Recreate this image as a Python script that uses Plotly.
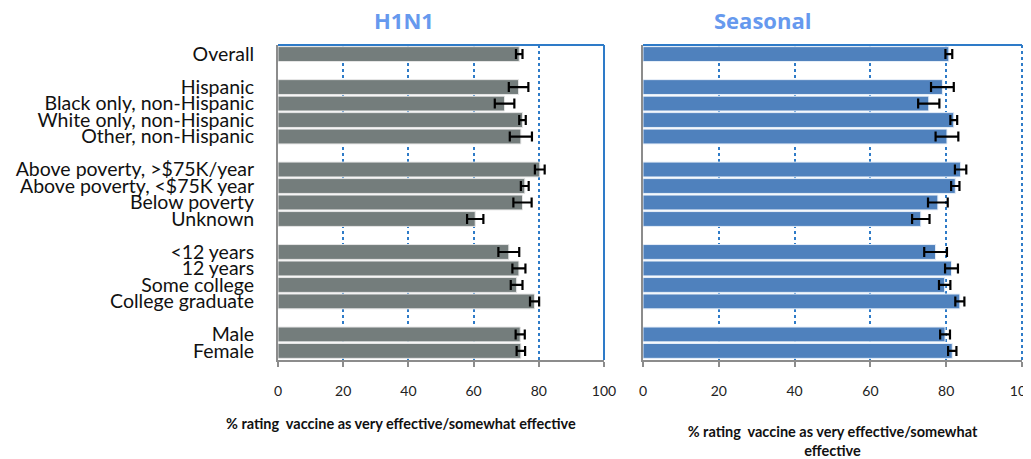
import plotly.graph_objects as go

# ---- data ----
groups = [
    ["Overall"],
    ["Hispanic", "Black only, non-Hispanic", "White only, non-Hispanic", "Other, non-Hispanic"],
    ["Above poverty, >$75K/year", "Above poverty, <$75K year", "Below poverty", "Unknown"],
    ["<12 years", "12 years", "Some college", "College graduate"],
    ["Male", "Female"],
]
h1n1_values = [74.0, 73.8, 69.5, 75.0, 74.5, 80.3, 75.7, 75.0, 60.5, 70.8, 73.9, 73.2, 78.7, 74.3, 74.5]
h1n1_errors = [1.0, 3.0, 3.0, 1.0, 3.4, 1.5, 1.2, 2.8, 2.5, 3.2, 2.0, 1.8, 1.4, 1.4, 1.3]
seasonal_values = [80.7, 79.0, 75.4, 82.0, 80.2, 83.8, 82.4, 77.8, 73.3, 77.2, 81.4, 79.6, 83.6, 79.7, 81.6]
seasonal_errors = [0.9, 3.0, 2.8, 0.9, 3.0, 1.5, 1.1, 2.6, 2.3, 3.0, 1.7, 1.5, 1.2, 1.3, 1.1]
x_ticks = [0, 20, 40, 60, 80, 100]
panel_titles = ["H1N1", "Seasonal"]
x_title_left = "% rating  vaccine as very effective/somewhat effective"
x_title_right = "% rating  vaccine as very effective/somewhat<br>effective"

# positions: one slot per category, one blank slot between groups (top to bottom)
labels, positions = [], []
slot = 0
for g in groups:
    for lab in g:
        labels.append(lab)
        positions.append(slot)
        slot += 1
    slot += 1
last_pos = positions[-1]

GRAY = "#747D7C"
BLUE = "#4F81BD"
GRID = "#2E7BC8"
AXIS = "#8C8C8C"
LABEL_FONT = "Lato"

fig = go.Figure()
fig.add_trace(go.Bar(
    x=h1n1_values, y=positions, orientation="h",
    marker=dict(color=GRAY, line=dict(color="#E6E6E6", width=1)),
    error_x=dict(type="data", array=h1n1_errors, color="black", thickness=2.2, width=5),
    xaxis="x", yaxis="y", showlegend=False,
))
fig.add_trace(go.Bar(
    x=seasonal_values, y=positions, orientation="h",
    marker=dict(color=BLUE, line=dict(color="#E6EEF8", width=1)),
    error_x=dict(type="data", array=seasonal_errors, color="black", thickness=2.2, width=5),
    xaxis="x2", yaxis="y2", showlegend=False,
))

# the page body adds an 8px offset; size the figure so it ends at the window edge
OFF = 8
W, H = 1031 - OFF, 459 - OFF
def px_x(p): return (p - OFF) / W
def px_y(p): return 1 - (p - OFF) / H

xdom1 = [px_x(278), px_x(604)]
xdom2 = [px_x(643), px_x(1022)]
ydom = [px_y(360), px_y(45)]

common_x = dict(
    range=[0, 100], tickvals=x_ticks, ticktext=[str(t) for t in x_ticks],
    showgrid=True, gridcolor=GRID, griddash="dot", gridwidth=1.5,
    showline=True, linecolor=AXIS, linewidth=2,
    ticks="outside", ticklen=5, tickcolor=AXIS, tickwidth=1.5,
    ticklabelstandoff=12, ticklabeloverflow="allow",
    tickfont=dict(family=LABEL_FONT, size=14, color="#222"),
    zeroline=False, fixedrange=True, automargin=False,
)
yr = [last_pos + 0.55, -0.55]
title_font = dict(family=LABEL_FONT, size=14.5, color="#111")

fig.update_layout(
    width=W, height=H,
    margin=dict(l=0, r=0, t=0, b=0, autoexpand=False),
    paper_bgcolor="white", plot_bgcolor="white",
    bargap=0.1,
    xaxis=dict(domain=xdom1, anchor="y", **common_x),
    xaxis2=dict(domain=xdom2, anchor="y2", **common_x,
                title=dict(text=f"<b>{x_title_right}</b>", font=title_font, standoff=31)),
    yaxis=dict(domain=ydom, anchor="x", range=yr, tickvals=positions, ticktext=labels,
               showgrid=False, zeroline=False, showline=True, linecolor=AXIS, linewidth=2,
               ticks="", ticklabelstandoff=18, automargin=False,
               tickfont=dict(family=LABEL_FONT, size=19.5, color="#111"), fixedrange=True),
    yaxis2=dict(domain=ydom, anchor="x2", range=yr, showticklabels=False,
                showgrid=False, zeroline=False, showline=True, linecolor=AXIS, linewidth=2,
                ticks="", fixedrange=True, automargin=False),
    font=dict(family=LABEL_FONT),
)

# left x-axis title sits left of the panel centre, as in the original
fig.add_annotation(text=f"<b>{x_title_left}</b>", x=px_x(401), y=px_y(423), xref="paper", yref="paper",
                   showarrow=False, xanchor="center", yanchor="middle", font=title_font)

# frame: top and right borders in blue
for xa, ya, rdash in (("x", "y", "solid"), ("x2", "y2", "dot")):
    fig.add_shape(type="line", xref=f"{xa} domain", yref=f"{ya} domain",
                  x0=0, x1=1, y0=1, y1=1, line=dict(color=GRID, width=2))
    fig.add_shape(type="line", xref=f"{xa} domain", yref=f"{ya} domain",
                  x0=1, x1=1, y0=0, y1=1, line=dict(color=GRID, width=2, dash=rdash))

# panel titles
for txt, cx in zip(panel_titles, (404, 762)):
    fig.add_annotation(text=f"<b>{txt}</b>", x=px_x(cx), y=px_y(20), xref="paper", yref="paper",
                       showarrow=False, xanchor="center", yanchor="middle", borderpad=0,
                       font=dict(family="Open Sans", size=22, color="#6699EE"))

fig.write_html("out.html")
